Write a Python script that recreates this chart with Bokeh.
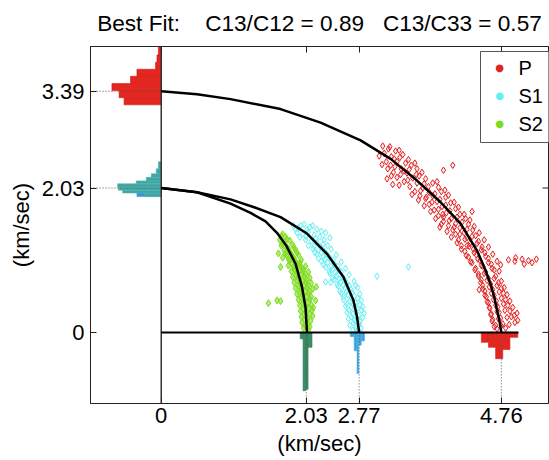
from bokeh.plotting import figure
from bokeh.models import FixedTicker, Label, BoxAnnotation, LinearAxis
from bokeh.embed import file_html
from bokeh.resources import INLINE

# ---------------- data ----------------
NB = "\u00a0"
title_text = "Best Fit:" + NB * 4 + "C13/C12 = 0.89" + NB * 3 + "C13/C33 = 0.57"
axis_label = "(km/sec)"
legend_labels = ["P", "S1", "S2"]

x_ticks = [0, 2.03, 2.77, 4.76]
x_tick_labels = ["0", "2.03", "2.77", "4.76"]
y_ticks = [0, 2.03, 3.39]
y_tick_labels = ["0", "2.03", "3.39"]
zero_line_end = 5.0

# fitted velocity curves
p_curve_x = [0, 0.5, 0.97, 1.67, 2.23, 2.79, 3.21, 3.58, 3.91, 4.19, 4.42, 4.52, 4.61, 4.66, 4.70, 4.735, 4.76]
p_curve_y = [3.39, 3.35, 3.28, 3.14, 2.95, 2.70, 2.44, 2.135, 1.83, 1.53, 1.15, 0.92, 0.68, 0.50, 0.31, 0.15, 0.0]
s1_curve_x = [0, 0.5, 0.97, 1.30, 1.67, 2.04, 2.32, 2.55, 2.69, 2.74, 2.77]
s1_curve_y = [2.03, 1.97, 1.87, 1.76, 1.62, 1.39, 1.105, 0.78, 0.45, 0.22, 0.0]
s2_curve_x = [0, 0.5, 0.97, 1.25, 1.46, 1.62, 1.75, 1.88, 1.97, 2.02, 2.04]
s2_curve_y = [2.03, 1.97, 1.81, 1.68, 1.56, 1.40, 1.22, 0.965, 0.64, 0.35, 0.0]

# measured P velocities
P_x = [3.10, 3.18, 3.05, 3.28, 3.22, 3.15, 3.38, 3.30, 3.17, 3.25, 3.42, 3.36, 3.50, 3.30, 3.44,
       3.58, 3.40, 3.52, 3.65, 3.48, 3.58, 3.70, 3.55, 3.66, 3.80, 3.95, 4.08, 3.62, 3.75, 3.88,
       3.16, 3.24,
       3.70, 3.80, 3.92, 3.75, 3.86, 3.98, 3.82, 3.93, 4.05, 3.88, 3.99, 4.12, 3.95, 4.06, 4.18,
       4.02, 4.12, 4.26, 4.08, 4.18, 4.30, 3.90, 3.95, 4.35,
       4.12, 4.24, 4.36, 4.16, 4.28, 4.40, 4.20, 4.32, 4.44, 4.25, 4.37, 4.49, 4.30, 4.41, 4.53,
       4.35, 4.46, 4.58, 4.40, 4.50, 4.62, 4.44, 4.54, 4.66, 4.86, 4.95, 5.05, 5.14, 5.25, 4.28, 4.75,
       4.48, 4.58, 4.68, 4.50, 4.61, 4.72, 4.53, 4.64, 4.76, 4.55, 4.66, 4.79, 4.58, 4.69, 4.82,
       4.60, 4.71, 4.85, 4.62, 4.73, 4.88, 4.64, 4.75, 4.90, 4.68, 4.78, 4.95, 4.70, 4.82, 4.45, 4.98,
       3.12, 3.20, 3.26, 3.33, 3.09, 3.21, 3.34, 3.46, 3.27, 3.40, 3.55, 3.22, 3.35, 3.47, 3.61,
       3.33, 3.45, 3.57, 3.68, 3.51, 3.63, 3.74, 3.86, 3.60, 3.71, 3.83, 3.97, 3.68, 3.79, 3.90,
       4.02, 3.77, 3.88, 3.98, 4.10, 3.84, 3.94, 4.04, 4.16, 3.92, 4.03, 4.14, 4.24, 4.00, 4.10,
       4.21, 4.32, 4.06, 4.18, 4.28, 4.38, 4.14, 4.25, 4.35, 4.45, 4.20, 4.31, 4.42, 4.52, 4.27,
       4.38, 4.48, 4.58, 4.33, 4.43, 4.54, 4.64, 4.39, 4.48, 4.58, 4.70, 4.44, 4.52, 4.63, 4.73,
       4.47, 4.56, 4.66, 4.76, 4.50, 4.59, 4.70, 4.80, 4.53, 4.62, 4.73, 4.84, 4.56, 4.65, 4.76,
       4.88, 4.59, 4.68, 4.79, 4.92, 4.61, 4.70, 4.81, 4.94, 4.63, 4.72, 4.84, 4.66, 4.76, 4.87,
       4.99, 5.08, 5.19, 4.96]
P_y = [2.62, 2.58, 2.48, 2.55, 2.47, 2.40, 2.50, 2.40, 2.30, 2.25, 2.38, 2.30, 2.35, 2.18, 2.24,
       2.30, 2.12, 2.17, 2.25, 2.05, 2.10, 2.16, 1.98, 2.03, 2.10, 2.28, 2.35, 1.92, 1.97, 2.04,
       2.16, 2.08,
       1.88, 1.92, 1.98, 1.80, 1.84, 1.90, 1.72, 1.77, 1.82, 1.64, 1.68, 1.74, 1.56, 1.60, 1.66,
       1.50, 1.53, 1.60, 1.44, 1.47, 1.52, 1.48, 1.62, 1.70,
       1.38, 1.40, 1.44, 1.30, 1.33, 1.36, 1.22, 1.25, 1.28, 1.14, 1.17, 1.20, 1.06, 1.09, 1.12,
       0.98, 1.01, 1.04, 0.90, 0.93, 0.96, 0.82, 0.85, 0.88, 1.02, 1.00, 1.03, 1.01, 1.03, 1.22, 0.95,
       0.74, 0.76, 0.79, 0.66, 0.68, 0.70, 0.58, 0.60, 0.62, 0.50, 0.52, 0.55, 0.42, 0.44, 0.46,
       0.34, 0.36, 0.38, 0.26, 0.28, 0.30, 0.18, 0.20, 0.22, 0.10, 0.12, 0.14, 0.05, 0.06, 0.60, 0.27,
       2.52, 2.61, 2.44, 2.56, 2.36, 2.35, 2.46, 2.43, 2.33, 2.27, 2.38, 2.20, 2.22, 2.29, 2.20,
       2.07, 2.14, 2.22, 2.09, 1.94, 1.99, 2.05, 2.12, 1.86, 1.90, 1.95, 2.00, 1.78, 1.83, 1.87,
       1.93, 1.70, 1.73, 1.79, 1.83, 1.60, 1.66, 1.71, 1.76, 1.52, 1.57, 1.62, 1.66, 1.42, 1.48,
       1.55, 1.58, 1.34, 1.38, 1.45, 1.49, 1.26, 1.31, 1.35, 1.40, 1.17, 1.21, 1.25, 1.30, 1.08,
       1.12, 1.16, 1.20, 0.99, 1.03, 1.07, 1.10, 0.88, 0.94, 0.98, 1.00, 0.79, 0.83, 0.90, 0.86,
       0.70, 0.73, 0.76, 0.72, 0.61, 0.64, 0.66, 0.63, 0.52, 0.55, 0.57, 0.53, 0.43, 0.46, 0.48,
       0.44, 0.35, 0.38, 0.40, 0.35, 0.25, 0.29, 0.31, 0.24, 0.16, 0.19, 0.21, 0.08, 0.09, 0.11,
       0.17, 0.96, 0.98, 1.05]

# measured S1 velocities
S1_x = [1.85, 1.92, 2.00, 2.08, 2.18, 2.30, 1.90, 1.98, 2.06, 2.14, 2.22, 2.36, 2.02, 2.10, 2.18,
        2.27, 2.12, 2.20, 2.29, 2.38, 2.18, 2.27, 2.36, 2.45,
        2.24, 2.33, 2.42, 2.52, 2.30, 2.40, 2.49, 2.58, 2.36, 2.45, 2.54, 2.63, 2.42, 2.51, 2.60,
        2.70, 2.30, 2.37, 2.48, 2.57, 2.66, 2.75, 3.02, 3.46,
        2.52, 2.61, 2.70, 2.78, 2.55, 2.64, 2.72, 2.80, 2.58, 2.66, 2.74, 2.82, 2.60, 2.68, 2.76,
        2.84, 2.62, 2.70, 2.78, 2.64, 2.72, 2.80, 2.68, 2.76,
        1.88, 1.95, 2.04, 2.12, 2.24, 1.94, 2.03, 2.16, 2.28, 2.06, 2.14, 2.23, 2.33, 2.15, 2.24,
        2.32, 2.41, 2.20, 2.29, 2.38, 2.47, 2.27, 2.35, 2.44, 2.52, 2.40, 2.49, 2.57, 2.46, 2.55,
        2.63, 2.72, 2.50, 2.59, 2.67, 2.55, 2.66, 2.75, 2.60, 2.69, 2.78, 2.63, 2.72, 2.80, 2.66,
        2.74, 2.82, 2.69, 2.77, 2.73]
S1_y = [1.50, 1.47, 1.52, 1.48, 1.45, 1.40, 1.40, 1.38, 1.41, 1.37, 1.34, 1.33, 1.30, 1.28, 1.26,
        1.24, 1.18, 1.16, 1.14, 1.17, 1.10, 1.07, 1.05, 1.09,
        1.00, 0.98, 0.96, 0.99, 0.92, 0.89, 0.87, 0.90, 0.83, 0.80, 0.78, 0.81, 0.74, 0.71, 0.69,
        0.72, 0.71, 0.70, 0.65, 0.62, 0.60, 0.63, 0.79, 0.92,
        0.55, 0.53, 0.51, 0.54, 0.46, 0.44, 0.42, 0.45, 0.37, 0.35, 0.33, 0.36, 0.28, 0.26, 0.24,
        0.27, 0.19, 0.17, 0.15, 0.10, 0.08, 0.06, 0.03, 0.03,
        1.45, 1.50, 1.44, 1.50, 1.42, 1.34, 1.35, 1.32, 1.30, 1.22, 1.21, 1.20, 1.22, 1.12, 1.12,
        1.10, 1.02, 1.04, 1.03, 0.93, 0.93, 0.95, 0.86, 0.84, 0.85, 0.77, 0.75, 0.74, 0.67, 0.66,
        0.66, 0.66, 0.58, 0.57, 0.56, 0.50, 0.48, 0.48, 0.40, 0.39, 0.39, 0.31, 0.30, 0.31, 0.22,
        0.20, 0.21, 0.13, 0.12, 0.05]

# measured S2 velocities
S2_x = [1.70, 1.74, 1.66, 1.72, 1.80, 1.68, 1.76, 1.84, 1.72, 1.80, 1.88, 1.76, 1.84, 1.92, 1.70,
        1.80, 1.88, 1.96, 1.64,
        1.67, 1.78, 1.86, 1.94, 2.02, 1.82, 1.90, 1.98, 2.06, 1.84, 1.92, 2.00, 2.08, 1.86, 1.94,
        2.02, 2.10, 1.88, 1.96, 2.04, 2.12, 2.17, 1.90, 1.98, 2.06,
        1.50, 1.62, 1.67, 1.92, 2.00, 2.08, 2.16, 1.94, 2.02, 2.10, 1.95, 2.03, 2.11, 1.96, 2.04,
        2.12, 1.97, 2.05, 1.99, 2.06,
        1.68, 1.76, 1.70, 1.78, 1.86, 1.74, 1.82, 1.90, 1.78, 1.86, 1.94, 1.82, 1.90, 1.98, 1.86,
        1.94, 2.02, 1.88, 1.96, 2.04, 1.90, 1.98, 2.06, 1.92, 2.00, 2.08, 1.94, 2.02, 2.10, 1.96,
        2.04, 1.98, 2.06, 2.13, 1.99, 2.07, 2.00, 2.08, 2.01, 2.09, 2.02, 2.08]
S2_y = [1.38, 1.34, 1.30, 1.27, 1.29, 1.22, 1.20, 1.23, 1.15, 1.13, 1.16, 1.08, 1.06, 1.09, 1.05,
        1.01, 0.99, 1.02, 1.11,
        0.92, 0.94, 0.92, 0.95, 0.93, 0.86, 0.84, 0.87, 0.85, 0.78, 0.76, 0.79, 0.77, 0.70, 0.68,
        0.71, 0.69, 0.62, 0.60, 0.63, 0.61, 0.64, 0.54, 0.52, 0.55,
        0.41, 0.45, 0.44, 0.46, 0.44, 0.47, 0.45, 0.38, 0.36, 0.39, 0.30, 0.28, 0.31, 0.22, 0.20,
        0.23, 0.14, 0.12, 0.06, 0.04,
        1.35, 1.31, 1.24, 1.18, 1.19, 1.11, 1.10, 1.12, 1.03, 1.04, 0.98, 0.97, 0.96, 0.90, 0.89,
        0.88, 0.82, 0.81, 0.80, 0.74, 0.73, 0.72, 0.66, 0.65, 0.66, 0.58, 0.57, 0.58, 0.50, 0.49,
        0.50, 0.41, 0.42, 0.35, 0.33, 0.34, 0.25, 0.26, 0.17, 0.16, 0.09, 0.08]

# histograms of vertical velocities (bars to the left of x=0)
py_lo = [3.20, 3.30, 3.40, 3.50, 3.60, 3.70, 3.80, 3.90]
py_hi = [3.30, 3.40, 3.50, 3.60, 3.70, 3.80, 3.90, 4.05]
py_count = [0.52, 0.59, 0.69, 0.43, 0.34, 0.08, 0.06, 0.04]
s1y_lo = [1.91]
s1y_hi = [1.96]
s1y_count = [0.34]
sy_lo = [1.91, 1.96, 2.00, 2.04, 2.09, 2.13, 2.18, 2.23, 2.30]
sy_hi = [1.96, 2.00, 2.04, 2.09, 2.13, 2.18, 2.23, 2.30, 2.40]
sy_count = [0.23, 0.54, 0.60, 0.61, 0.35, 0.21, 0.14, 0.07, 0.04]

# histograms of horizontal velocities (bars below y=0)
s2x_lo = [1.945, 1.985, 2.02, 2.055]
s2x_hi = [1.985, 2.02, 2.055, 2.11]
s2x_count = [0.09, 0.82, 0.80, 0.21]
s1x_lo = [2.645, 2.70, 2.74, 2.765, 2.80]
s1x_hi = [2.70, 2.74, 2.765, 2.80, 2.845]
s1x_count = [0.06, 0.26, 0.58, 0.18, 0.12]
px_lo = [4.48, 4.58, 4.68, 4.78, 4.88]
px_hi = [4.58, 4.68, 4.78, 4.88, 4.99]
px_count = [0.14, 0.21, 0.37, 0.24, 0.07]

# ---------------- style ----------------
X_MIN, X_MAX = -0.99, 5.42
Y_MIN, Y_MAX = -1.0, 4.02
FONT = "Liberation Sans"
P_COLOR = "#e02222"
S1_COLOR = "#66eef2"
S2_COLOR = "#7edc1e"
series_colors = [P_COLOR, S1_COLOR, S2_COLOR]

p = figure(width=549, height=460, x_range=(X_MIN, X_MAX), y_range=(Y_MIN, Y_MAX),
           output_backend="svg", toolbar_location=None,
           min_border_left=90, min_border_right=1, min_border_top=46, min_border_bottom=57)

p.xgrid.visible = False
p.ygrid.visible = False
p.outline_line_color = "#222222"
p.outline_line_width = 1
p.background_fill_color = "white"

bottom_axis = p.below[0]
left_axis = p.left[0]
for ax, ticks, labels, standoff, lab_standoff in ((bottom_axis, x_ticks, x_tick_labels, 4, 5),
                                                 (left_axis, y_ticks, y_tick_labels, 6, 5)):
    ax.ticker = FixedTicker(ticks=ticks)
    ax.major_label_overrides = {t: l for t, l in zip(ticks, labels)}
    ax.major_label_text_font = FONT
    ax.major_label_text_font_size = "22px"
    ax.major_label_text_color = "black"
    ax.major_label_standoff = standoff
    ax.axis_label = axis_label
    ax.axis_label_text_font = FONT
    ax.axis_label_text_font_size = "22px"
    ax.axis_label_text_font_style = "normal"
    ax.axis_label_text_color = "black"
    ax.axis_label_standoff = lab_standoff
    ax.major_tick_in = 6
    ax.major_tick_out = 0
    ax.minor_tick_in = 0
    ax.minor_tick_out = 0
    ax.axis_line_color = "#222222"
    ax.major_tick_line_color = "#222222"

# top axis: mirrored ticks, carries the title as its label
top_axis = LinearAxis(ticker=FixedTicker(ticks=x_ticks))
top_axis.major_label_overrides = {t: "" for t in x_ticks}
top_axis.major_label_text_font_size = "0px"
top_axis.major_label_standoff = 0
top_axis.major_tick_in = 6
top_axis.major_tick_out = 0
top_axis.minor_tick_in = 0
top_axis.minor_tick_out = 0
top_axis.axis_line_color = "#222222"
top_axis.major_tick_line_color = "#222222"
top_axis.axis_label = title_text
top_axis.axis_label_text_font = FONT
top_axis.axis_label_text_font_size = "22.6px"
top_axis.axis_label_text_font_style = "normal"
top_axis.axis_label_text_color = "black"
top_axis.axis_label_standoff = 11
p.add_layout(top_axis, "above")

# histograms
p.quad(left=[-c for c in py_count], right=[0] * len(py_count), bottom=py_lo, top=py_hi,
       fill_color="#e3261f", line_color="#cf1f1a", line_width=0.6)
p.quad(left=[-c for c in s1y_count], right=[0] * len(s1y_count), bottom=s1y_lo, top=s1y_hi,
       fill_color="#3b96e0", line_color="#3b96e0", line_width=0.6)
p.quad(left=[-c for c in sy_count], right=[0] * len(sy_count), bottom=sy_lo, top=sy_hi,
       fill_color="#3fa6a6", line_color="#56b3ad", line_width=0.6)
p.quad(left=s2x_lo, right=s2x_hi, top=[0] * len(s2x_count), bottom=[-c for c in s2x_count],
       fill_color="#3d8f68", line_color="#2f7a55", line_width=0.6)
p.quad(left=s1x_lo, right=s1x_hi, top=[0] * len(s1x_count), bottom=[-c for c in s1x_count],
       fill_color="#3a9ee0", line_color="#55bdea", line_width=0.6)
p.quad(left=px_lo, right=px_hi, top=[0] * len(px_count), bottom=[-c for c in px_count],
       fill_color="#e3261f", line_color="#cf1f1a", line_width=0.6)

# dotted reference lines
ref_y = y_ticks[1:]
p.segment(x0=[X_MIN] * len(ref_y), y0=ref_y, x1=[0] * len(ref_y), y1=ref_y,
          line_color="#555555", line_dash="1 2", line_width=1)
ref_x = x_ticks[1:]
p.segment(x0=ref_x, y0=[0] * len(ref_x), x1=ref_x, y1=[Y_MIN] * len(ref_x),
          line_color="#555555", line_dash="1 2", line_width=1)

# mirrored ticks on the right
tl_x = 6 / 71.45
p.segment(x0=[X_MAX] * len(y_ticks), y0=y_ticks, x1=[X_MAX - tl_x] * len(y_ticks), y1=y_ticks,
          line_color="#222222", line_width=1)

# scatter data
p.scatter(S2_x, S2_y, marker="diamond", size=7, line_color=S2_COLOR, fill_color=S2_COLOR,
          fill_alpha=0.6, line_width=1)
p.scatter(S1_x, S1_y, marker="diamond", size=6.5, line_color=S1_COLOR, fill_color=S1_COLOR,
          fill_alpha=0.12, line_width=1)
p.scatter(P_x, P_y, marker="diamond", size=6.5, line_color=P_COLOR, fill_color=P_COLOR,
          fill_alpha=0.1, line_width=1)

# axes through the origin
p.segment(x0=[0], y0=[Y_MIN], x1=[0], y1=[Y_MAX], line_color="#333333", line_width=1.5)
p.segment(x0=[0], y0=[0], x1=[zero_line_end], y1=[0], line_color="black", line_width=2)

# fitted curves
for cx, cy in ((p_curve_x, p_curve_y), (s1_curve_x, s1_curve_y), (s2_curve_x, s2_curve_y)):
    p.line(cx, cy, line_color="black", line_width=2.5, line_join="round")

# legend (drawn in screen units relative to the plot frame)
LEG_LEFT, LEG_RIGHT, LEG_TOP, LEG_BOTTOM = 390, 462, 352, 261
p.add_layout(BoxAnnotation(left=LEG_LEFT, right=LEG_RIGHT, top=LEG_TOP, bottom=LEG_BOTTOM,
                           left_units="screen", right_units="screen",
                           top_units="screen", bottom_units="screen",
                           fill_color="white", fill_alpha=1.0,
                           line_color="#555555", line_alpha=1.0, line_width=1))
for i, (lab, col) in enumerate(zip(legend_labels, series_colors)):
    yy = 336 - 28 * i
    p.add_layout(Label(x=409, y=yy, x_units="screen", y_units="screen", text="\u25cf",
                       text_color=col, text_font="DejaVu Sans",
                       text_font_size="10px", text_align="center", text_baseline="middle"))
    p.add_layout(Label(x=428, y=yy, x_units="screen", y_units="screen", text=lab,
                       text_color="black", text_font=FONT, text_font_size="20px",
                       text_align="left", text_baseline="middle"))

open("out.html", "w").write(file_html(p, INLINE))
